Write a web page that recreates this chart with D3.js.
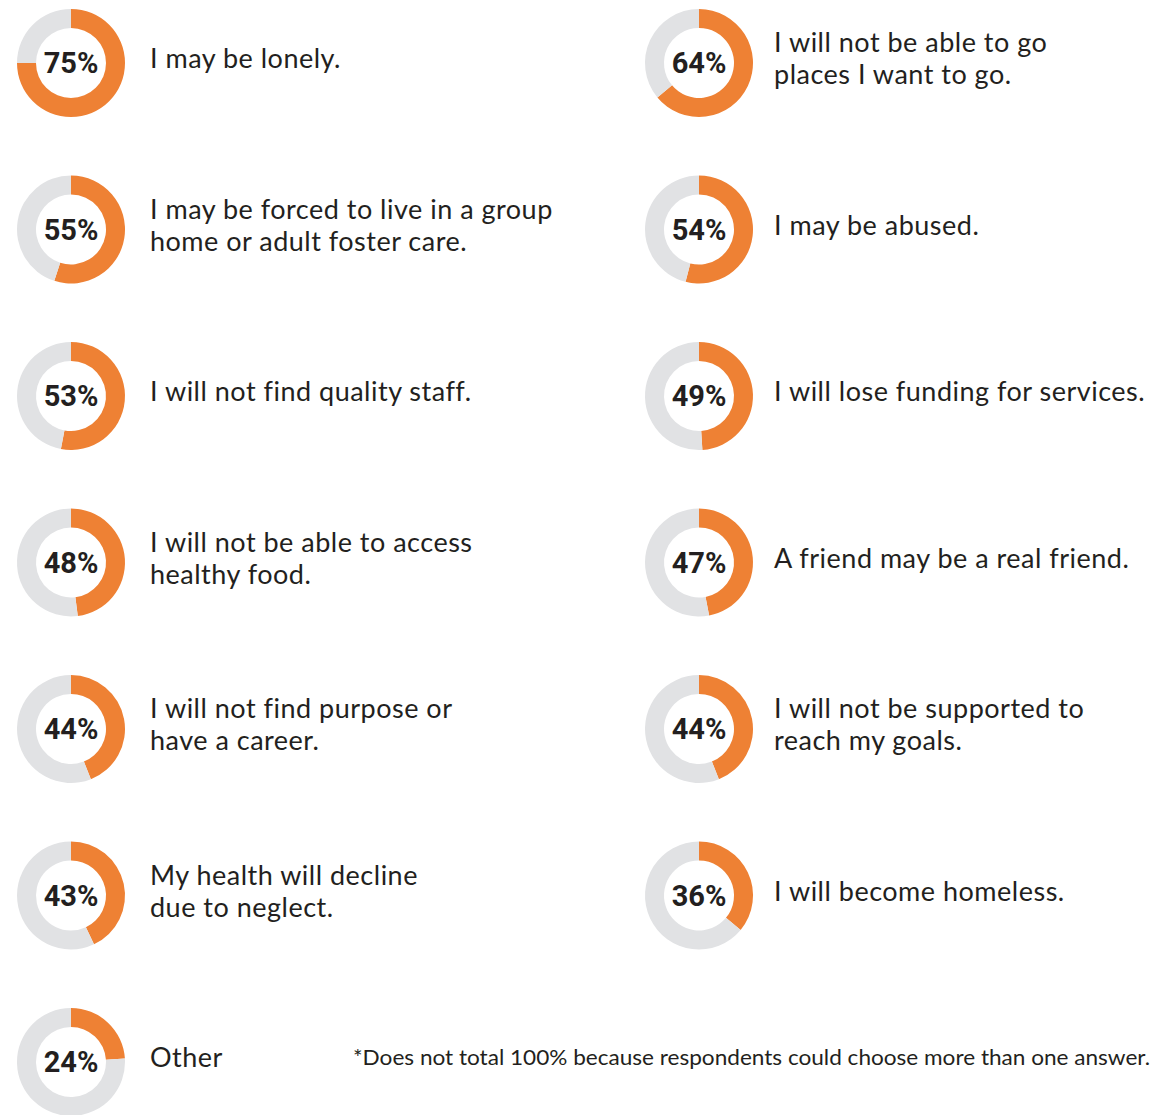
<!DOCTYPE html>
<html>
<head>
<meta charset="utf-8">
<script src="https://cdn.jsdelivr.net/npm/d3@7"></script>
<style>
  body { margin: 0; background: #fff; }
  svg { display: block; }
</style>
</head>
<body>
<svg id="chart" width="1150" height="1115"></svg>
<script>
// data
var leftLabels = [
  ["I may be lonely."],
  ["I may be forced to live in a group", "home or adult foster care."],
  ["I will not find quality staff."],
  ["I will not be able to access", "healthy food."],
  ["I will not find purpose or", "have a career."],
  ["My health will decline", "due to neglect."],
  ["Other"]
];
var leftValues = [75, 55, 53, 48, 44, 43, 24];

var rightLabels = [
  ["I will not be able to go", "places I want to go."],
  ["I may be abused."],
  ["I will lose funding for services."],
  ["A friend may be a real friend."],
  ["I will not be supported to", "reach my goals."],
  ["I will become homeless."]
];
var rightValues = [64, 54, 49, 47, 44, 36];

var footnote = "*Does not total 100% because respondents could choose more than one answer.";

var orange = "#ee8134", grey = "#e1e2e4", ink = "#231f20";

var svg = d3.select("#chart");

var yScale = d3.scaleLinear().domain([0, 6]).range([63, 1062]);
var colX = [71, 699];
var textX = [150, 774];

var arc = d3.arc().innerRadius(35).outerRadius(54);
var pie = d3.pie().sort(null).value(function(d) { return d; });

function drawColumn(labels, values, col) {
  var g = svg.append("g");
  var item = g.selectAll("g.item")
    .data(values)
    .enter()
    .append("g")
      .attr("class", "item")
      .attr("transform", function(d, i) { return "translate(" + colX[col] + "," + yScale(i) + ")"; });

  item.selectAll("path")
    .data(function(d) { return pie([d, 100 - d]); })
    .enter()
    .append("path")
      .attr("d", arc)
      .style("fill", function(d, i) { return i == 0 ? orange : grey; });

  item.append("text")
    .attr("text-anchor", "middle")
    .attr("dy", "0.36em")
    .style("font-family", "Roboto, sans-serif")
    .style("font-weight", "700")
    .style("font-size", "29px")
    .style("fill", ink)
    .text(function(d) { return d + "%"; });

  // labels
  item.each(function(d, i) {
    var lines = labels[i];
    var t = d3.select(this).append("text")
      .style("font-family", "Lato, sans-serif")
      .style("font-size", "27px")
      .style("letter-spacing", "0.5px")
      .style("fill", ink);
    var y0 = lines.length == 1 ? -4 : -20;
    lines.forEach(function(line, k) {
      t.append("tspan")
        .attr("x", textX[col] - colX[col])
        .attr("y", y0 + k * 32)
        .attr("dy", "0.35em")
        .text(line);
    });
  });
}

drawColumn(leftLabels, leftValues, 0);
drawColumn(rightLabels, rightValues, 1);

svg.append("text")
  .attr("x", 353)
  .attr("y", 1058)
  .attr("dy", "0.35em")
  .attr("textLength", 797)
  .attr("lengthAdjust", "spacingAndGlyphs")
  .style("font-family", "Lato, sans-serif")
  .style("font-size", "21px")
  .style("fill", ink)
  .text(footnote);
</script>
</body>
</html>
